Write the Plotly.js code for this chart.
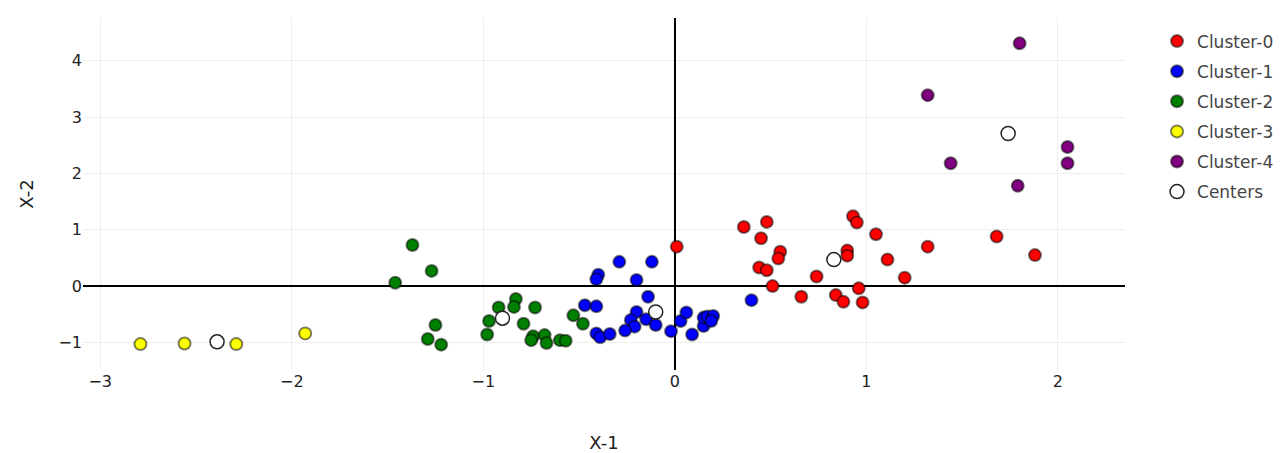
<!DOCTYPE html>
<html>
<head>
<meta charset="utf-8">
<script src="https://cdn.plot.ly/plotly-3.0.1.min.js"></script>
<style>html,body{margin:0;padding:0;background:#fff;}#chart{width:1286px;height:453px;}</style>
</head>
<body>
<div id="chart"></div>
<script>
const clusterNames = ["Cluster-0","Cluster-1","Cluster-2","Cluster-3","Cluster-4"];
const clusterColors = ["#ff0000","#0000ff","#008000","#ffff00","#800080"];

const c0x = [0.01,0.36,0.48,0.45,0.55,0.54,0.44,0.48,0.51,0.66,0.74,0.84,0.88,0.90,0.90,0.93,0.95,0.96,0.98,1.05,1.11,1.20,1.32,1.68,1.88];
const c0y = [0.70,1.05,1.14,0.85,0.61,0.49,0.33,0.28,0.00,-0.19,0.17,-0.16,-0.28,0.63,0.54,1.24,1.13,-0.04,-0.29,0.92,0.47,0.15,0.70,0.88,0.55];

const c1x = [-0.40,-0.41,-0.29,-0.12,-0.20,-0.14,-0.47,-0.41,-0.20,-0.23,-0.15,-0.10,-0.21,-0.26,-0.41,-0.39,-0.34,-0.02,0.03,0.06,0.09,0.15,0.15,0.17,0.20,0.19,0.40];
const c1y = [0.20,0.12,0.43,0.43,0.11,-0.19,-0.34,-0.36,-0.46,-0.60,-0.59,-0.69,-0.72,-0.79,-0.84,-0.91,-0.85,-0.80,-0.62,-0.47,-0.86,-0.71,-0.56,-0.54,-0.53,-0.62,-0.25];

const c2x = [-1.46,-1.37,-1.27,-1.25,-1.29,-1.22,-0.98,-0.97,-0.92,-0.83,-0.84,-0.73,-0.79,-0.74,-0.75,-0.68,-0.67,-0.60,-0.57,-0.53,-0.48];
const c2y = [0.06,0.73,0.27,-0.69,-0.94,-1.04,-0.86,-0.62,-0.38,-0.23,-0.37,-0.38,-0.67,-0.89,-0.96,-0.87,-1.01,-0.96,-0.97,-0.52,-0.67];

const c3x = [-2.79,-2.56,-2.29,-1.93];
const c3y = [-1.03,-1.02,-1.03,-0.84];

const c4x = [1.80,1.32,1.44,1.79,2.05,2.05];
const c4y = [4.31,3.39,2.18,1.78,2.47,2.18];

const centerX = [0.83,-0.10,-0.90,-2.39,1.74];
const centerY = [0.47,-0.46,-0.57,-0.99,2.71];

const xs = [c0x,c1x,c2x,c3x,c4x];
const ys = [c0y,c1y,c2y,c3y,c4y];

const traces = xs.map((x,i)=>({
  type:'scatter', mode:'markers', name:clusterNames[i], x:x, y:ys[i],
  legendgroup:'g'+i,
  marker:{size:12, color:clusterColors[i], line:{width:2, color:'rgba(0,0,0,0.5)'}}
}));
traces.push({
  type:'scatter', mode:'markers', name:'Centers', x:centerX, y:centerY,
  legendgroup:'gc',
  marker:{size:14, color:'#ffffff', line:{width:1.5, color:'#222'}}
});

const fontFam = 'DejaVu Sans, Verdana, sans-serif';
const layout = {
  width:1286, height:453,
  margin:{l:83, r:161, t:18, b:83, autoexpand:false},
  paper_bgcolor:'#fff', plot_bgcolor:'#fff',
  font:{family:fontFam, size:17, color:'#444'},
  showlegend:true,
  legend:{xref:'container', yref:'container', x:0.8997, y:0.948, xanchor:'left', yanchor:'top',
          font:{size:17, color:'#444'}, tracegroupgap:5, traceorder:'grouped'},
  xaxis:{
    range:[-3.09,2.35], dtick:1, showgrid:true, gridcolor:'#eeeeee',
    zeroline:true, zerolinecolor:'#000', zerolinewidth:1.5,
    showline:false, ticks:'', tickfont:{size:16, color:'#222'},
    title:{text:'X-1', font:{size:18, color:'#222'}, standoff:48}
  },
  yaxis:{
    range:[-1.49,4.76], dtick:1, showgrid:true, gridcolor:'#eeeeee',
    zeroline:true, zerolinecolor:'#000', zerolinewidth:1.5,
    showline:false, ticks:'', tickfont:{size:16, color:'#222'},
    title:{text:'X-2', font:{size:18, color:'#222'}, standoff:20}
  }
};
Plotly.newPlot('chart', traces, layout, {displayModeBar:false});
</script>
</body>
</html>
